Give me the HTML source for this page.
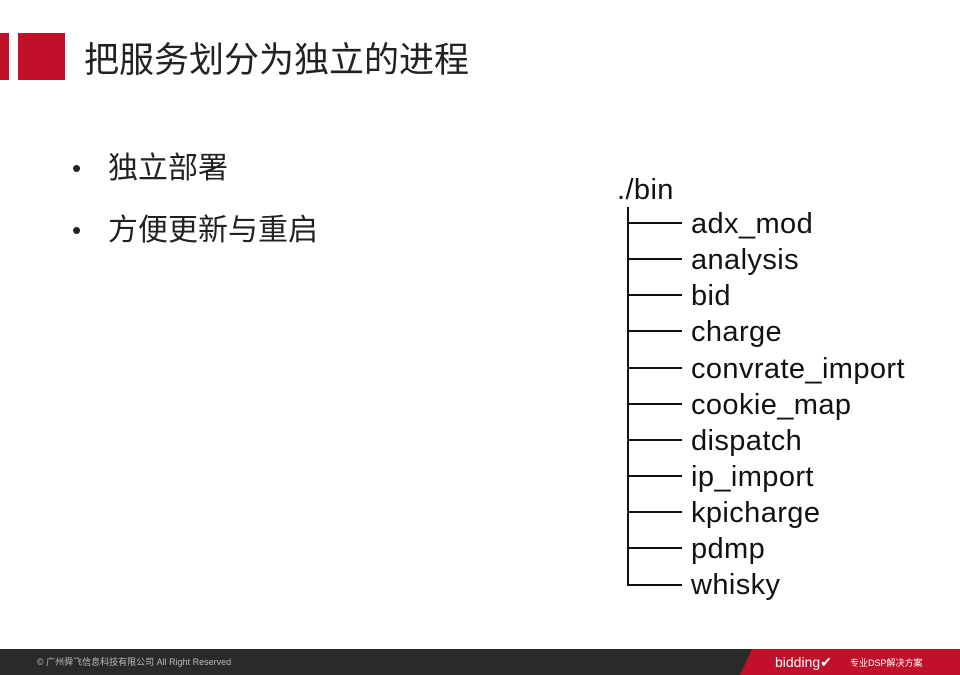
<!DOCTYPE html>
<html><head><meta charset="utf-8"><style>
body{margin:0;width:960px;height:675px;background:#fff;position:relative;overflow:hidden;font-family:"Liberation Sans","Noto Sans CJK SC",sans-serif;}
.a{position:absolute;white-space:nowrap;}
.it{position:absolute;left:691px;font-size:29px;letter-spacing:0.4px;color:#111;line-height:30px;}
.h{position:absolute;left:628px;width:54px;height:2px;background:#111;}
</style></head><body>
<div class="a" style="left:0;top:33px;width:9px;height:47px;background:#c0102a"></div>
<div class="a" style="left:18px;top:33px;width:47px;height:47px;background:#c0102a"></div>
<div class="a" style="left:84px;top:39px;font-size:35px;line-height:44px;color:#222">把服务划分为独立的进程</div>
<div class="a" style="left:72px;top:152px;font-size:26px;line-height:32px;color:#222">•</div>
<div class="a" style="left:108px;top:152px;font-size:30px;line-height:34px;color:#222">独立部署</div>
<div class="a" style="left:72px;top:214px;font-size:26px;line-height:32px;color:#222">•</div>
<div class="a" style="left:108px;top:214px;font-size:30px;line-height:34px;color:#222">方便更新与重启</div>
<div class="a" style="left:617px;top:175px;font-size:29px;line-height:30px;color:#111;letter-spacing:0.4px">./bin</div>
<div class="a" style="left:627px;top:207px;width:2px;height:379px;background:#111"></div>
<div class="h" style="top:222px"></div><div class="it" style="top:209px">adx_mod</div>
<div class="h" style="top:258px"></div><div class="it" style="top:245px">analysis</div>
<div class="h" style="top:294px"></div><div class="it" style="top:281px">bid</div>
<div class="h" style="top:330px"></div><div class="it" style="top:317px">charge</div>
<div class="h" style="top:367px"></div><div class="it" style="top:354px">convrate_import</div>
<div class="h" style="top:403px"></div><div class="it" style="top:390px">cookie_map</div>
<div class="h" style="top:439px"></div><div class="it" style="top:426px">dispatch</div>
<div class="h" style="top:475px"></div><div class="it" style="top:462px">ip_import</div>
<div class="h" style="top:511px"></div><div class="it" style="top:498px">kpicharge</div>
<div class="h" style="top:547px"></div><div class="it" style="top:534px">pdmp</div>
<div class="h" style="top:584px"></div><div class="it" style="top:570px">whisky</div>
<div class="a" style="left:0;top:649px;width:960px;height:26px;background:#2a2a2a"></div>
<svg class="a" style="left:0;top:649px" width="960" height="26"><polygon points="752,0 960,0 960,26 740,26" fill="#c0102a"/></svg>
<div class="a" style="left:37px;top:656px;font-size:9px;line-height:12px;color:#bbb">© 广州舜飞信息科技有限公司 All Right Reserved</div>
<div class="a" style="left:775px;top:654px;font-size:14px;line-height:16px;color:#fff">bidding✔</div>
<div class="a" style="left:850px;top:657px;font-size:9px;line-height:12px;color:#fff">专业DSP解决方案</div>
</body></html>
